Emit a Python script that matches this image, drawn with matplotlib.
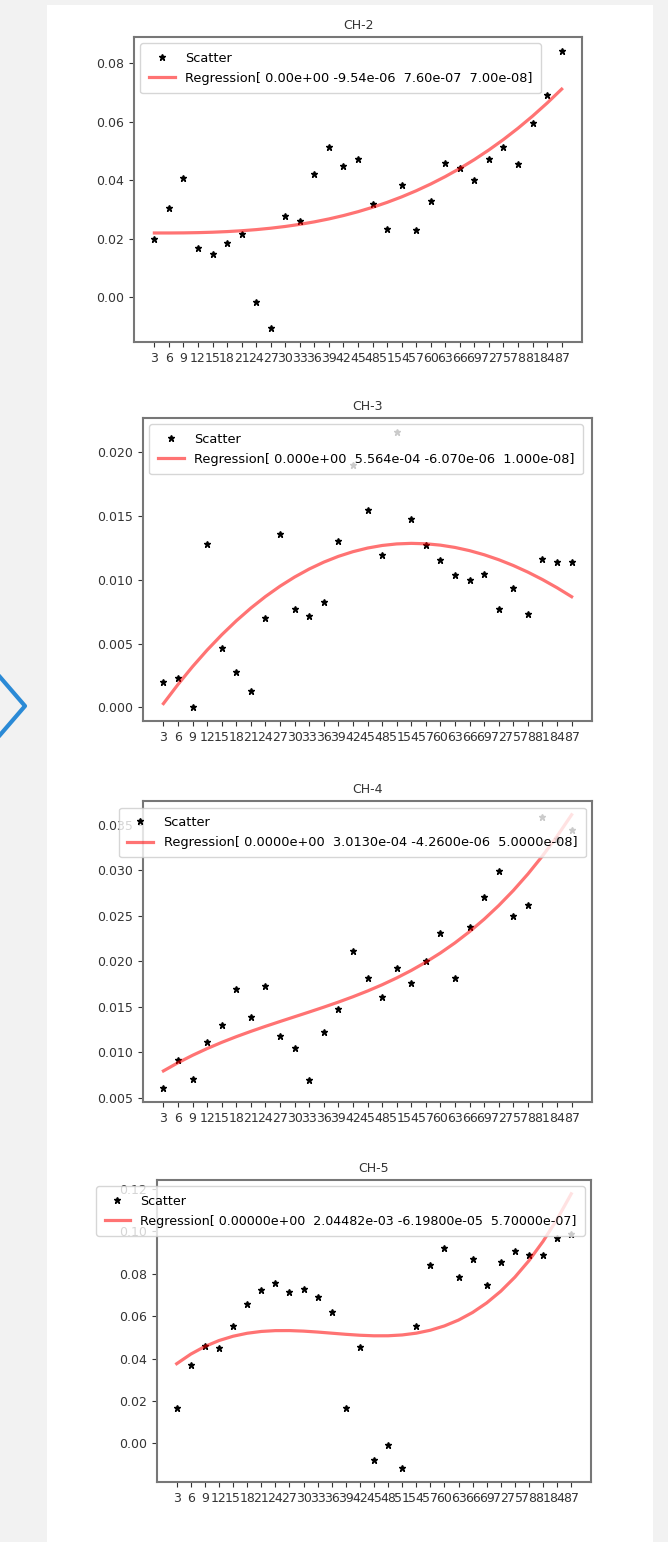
import numpy as np
import matplotlib.pyplot as plt
from matplotlib.patches import Rectangle
from matplotlib.lines import Line2D

# x positions shared by all four channels
x_vals = list(range(3, 90, 3))
x_labels = [str(v) for v in x_vals]

titles = ["CH-2", "CH-3", "CH-4", "CH-5"]

ch2 = [0.0201, 0.0306, 0.0407, 0.0168, 0.0148, 0.0186, 0.0217, -0.0014, -0.0105,
       0.0278, 0.0263, 0.0422, 0.0513, 0.0451, 0.0475, 0.0318, 0.0234, 0.0384,
       0.0230, 0.0331, 0.0460, 0.0444, 0.0402, 0.0474, 0.0513, 0.0455, 0.0598,
       0.0693, 0.0843]
ch3 = [0.0020, 0.00226, 0.0000, 0.0128, 0.00468, 0.00278, 0.00125, 0.00699, 0.01356,
       0.00771, 0.00719, 0.00829, 0.01304, 0.0190, 0.01543, 0.01195, 0.0216, 0.01478,
       0.01273, 0.01151, 0.01034, 0.0100, 0.01044, 0.00771, 0.00935, 0.00732, 0.01161,
       0.0114, 0.0114]
ch4 = [0.00601, 0.00915, 0.00706, 0.01114, 0.01295, 0.01699, 0.01385, 0.01728, 0.01179,
       0.01042, 0.00691, 0.01219, 0.01475, 0.02118, 0.01819, 0.01609, 0.01927, 0.01761,
       0.0200, 0.02317, 0.01819, 0.02379, 0.02711, 0.02993, 0.02498, 0.02621, 0.0359,
       0.0335, 0.0345]
ch5 = [0.01641, 0.03677, 0.04607, 0.04481, 0.05523, 0.0658, 0.07243, 0.07574, 0.07164,
       0.07274, 0.06896, 0.06185, 0.01641, 0.04528, -0.00789, -0.00095, -0.01183, 0.05523,
       0.08426, 0.09215, 0.07826, 0.08679, 0.07448, 0.08552, 0.09057, 0.08868, 0.08868,
       0.09704, 0.09893]

reg_labels = [
    "Regression[ 0.00e+00 -9.54e-06  7.60e-07  7.00e-08]",
    "Regression[ 0.000e+00  5.564e-04 -6.070e-06  1.000e-08]",
    "Regression[ 0.0000e+00  3.0130e-04 -4.2600e-06  5.0000e-08]",
    "Regression[ 0.00000e+00  2.04482e-03 -6.19800e-05  5.70000e-07]",
]

fig = plt.figure(figsize=(6.68, 15.42), dpi=100)
fig.patch.set_facecolor("#f2f2f2")

# white page behind the plots
fig.add_artist(Rectangle((47 / 668, 0), 606 / 668, 1 - 5 / 1542,
                         transform=fig.transFigure, facecolor="white",
                         edgecolor="none", zorder=-10))
# blue chevron on the left edge
fig.add_artist(Line2D([0 / 668, 25 / 668, 0 / 668],
                      [1 - 677 / 1542, 1 - 706 / 1542, 1 - 735 / 1542],
                      transform=fig.transFigure, color="#2b8ad6", lw=3))

rects = [
    [0.2006, 0.7782, 0.6707, 0.1978],
    [0.2141, 0.5324, 0.6722, 0.1965],
    [0.2141, 0.2853, 0.6722, 0.1952],
    [0.2350, 0.0389, 0.6497, 0.1958],
]
locs = ["upper left", "upper left", "upper right", "upper right"]
leg_sizes = [9.3, 9.3, 9.3, 9.1]

x = np.array(x_vals)
for data, title, lab, rect, loc, fs in zip([ch2, ch3, ch4, ch5], titles, reg_labels,
                                           rects, locs, leg_sizes):
    ax = fig.add_axes(rect)
    y = np.array(data)
    coef = np.polyfit(x, y, 3)
    fit = np.polyval(coef, x)
    ax.plot(x, y, "k*", markersize=5, label="Scatter")
    ax.plot(x, fit, color="red", alpha=0.55, lw=2.3, label=lab)
    ax.set_xticks(x_vals)
    ax.set_xticklabels(x_labels)
    ax.tick_params(labelsize=9, colors="#333333")
    for s in ax.spines.values():
        s.set_color("#777777")
        s.set_linewidth(1.5)
    ax.set_title(title, fontsize=9, color="#333333")
    ax.legend(loc=loc, fontsize=fs, labelspacing=0.55, borderpad=0.65)

plt.savefig("out.png")
